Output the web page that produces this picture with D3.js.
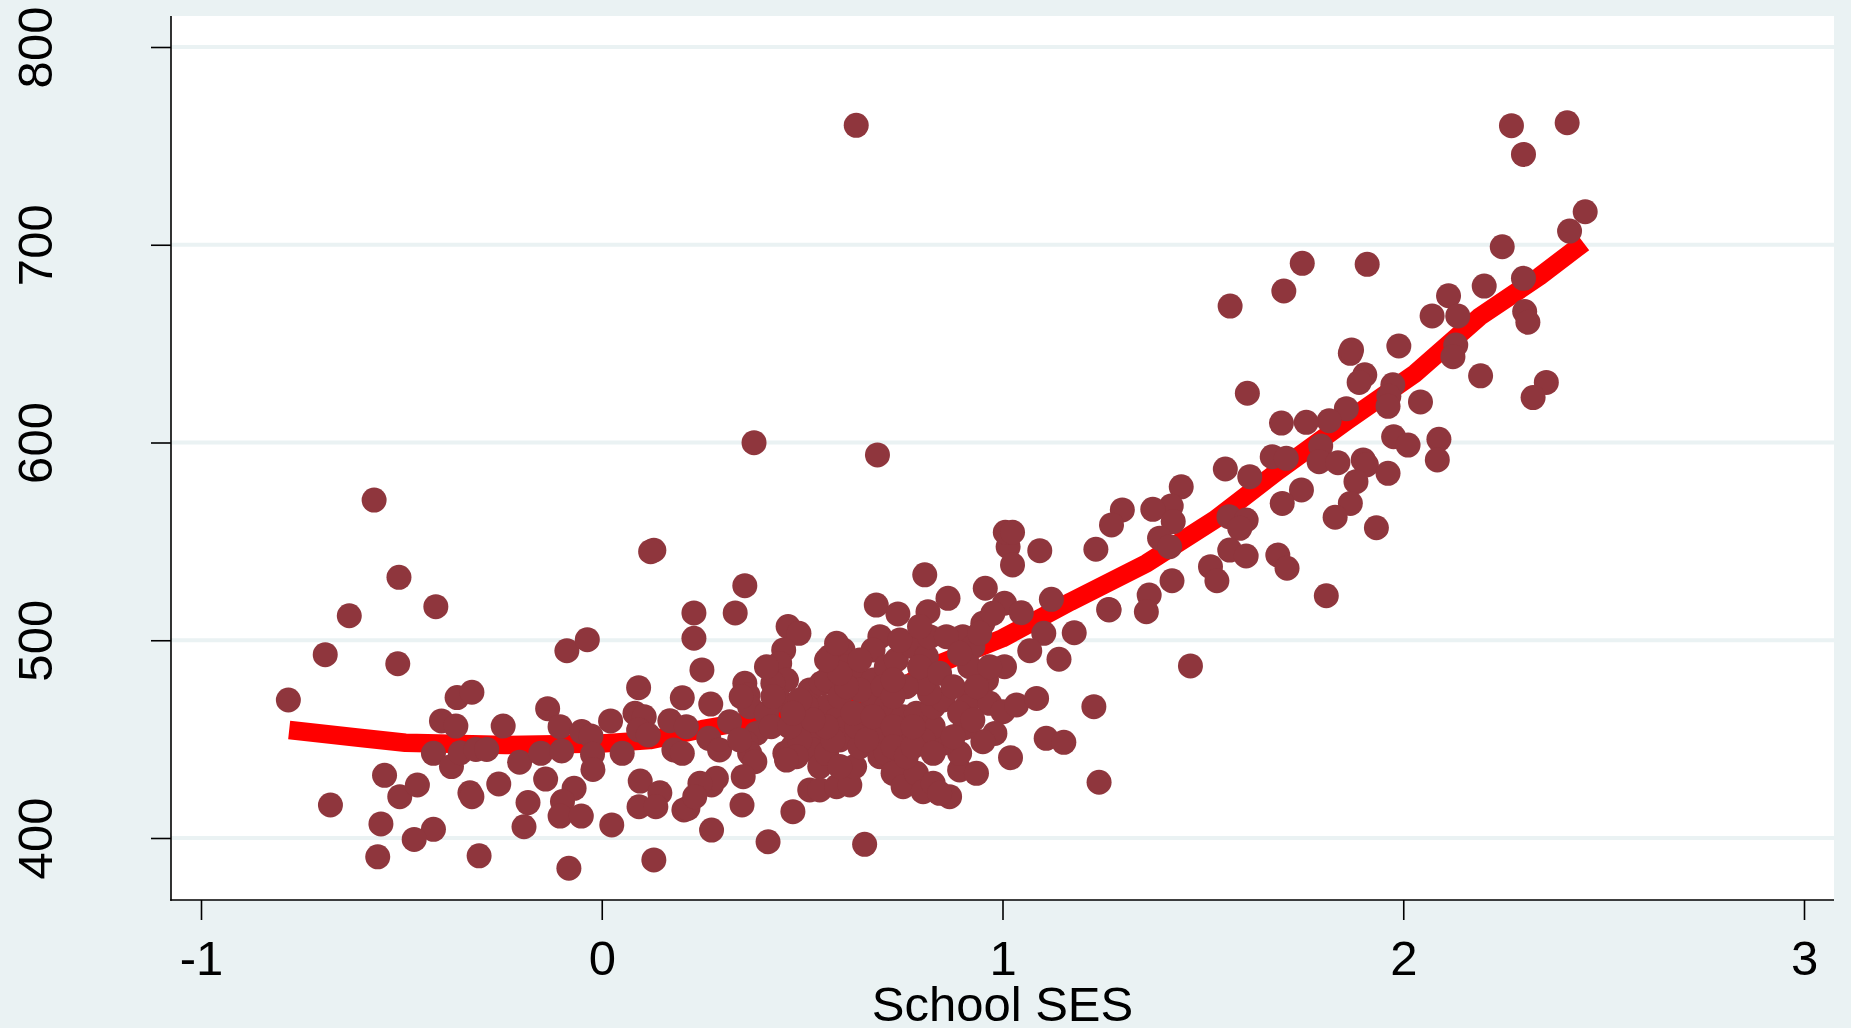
<!DOCTYPE html>
<html>
<head>
<meta charset="utf-8">
<title>School SES scatter</title>
<script src="https://cdn.jsdelivr.net/npm/d3@7"></script>
<style>
  html, body { margin: 0; padding: 0; background: #eaf2f3; overflow: hidden; }
  svg { display: block; }
</style>
</head>
<body>
<svg id="chart"></svg>
<script>
// School-level observations: [school SES, mean score]
const schools = [
  [-0.568,570.9],[-0.506,531.8],[-0.630,512.4],[-0.414,517.0],[-0.690,492.7],[-0.509,488.1],
  [-0.782,469.8],[0.130,545.5],[0.122,544.8],[-0.087,494.7],[-0.036,500.3],[0.092,476.0],
  [0.201,470.9],[-0.361,471.0],[-0.324,473.7],[-0.400,459.2],[-0.364,456.6],[-0.246,456.6],
  [-0.135,465.4],[-0.104,456.3],[-0.050,453.8],[-0.027,451.6],[0.022,459.2],[0.083,463.1],
  [0.106,461.3],[0.092,454.6],[0.116,452.1],[0.170,459.3],[0.180,444.5],[0.201,442.8],
  [-0.420,442.8],[-0.375,436.1],[-0.353,443.1],[-0.314,444.8],[-0.287,444.8],[-0.205,438.3],
  [-0.152,442.8],[-0.100,444.0],[-0.023,442.3],[-0.022,434.7],[0.051,442.8],[-0.542,431.7],
  [-0.504,420.9],[-0.460,426.8],[-0.329,422.9],[-0.324,420.9],[-0.257,427.3],[-0.140,429.8],
  [-0.184,417.9],[-0.069,425.1],[-0.098,418.4],[-0.104,411.1],[-0.051,411.1],[-0.194,405.7],
  [0.025,406.6],[0.096,428.8],[0.145,422.9],[0.093,415.8],[0.135,415.8],[0.205,414.2],
  [-0.677,416.7],[-0.551,407.1],[-0.420,404.4],[-0.468,399.3],[-0.559,390.5],[-0.306,391.0],
  [-0.082,384.7],[0.130,388.9],
  [0.357,527.6],[0.230,513.8],[0.333,513.8],[0.230,501.0],[0.250,485.0],[0.272,467.7],
  [0.211,456.3],[0.267,450.4],[0.294,444.5],[0.319,458.8],[0.357,478.2],[0.365,472.3],
  [0.465,506.9],[0.492,503.5],[0.454,495.1],[0.444,488.3],[0.461,479.9],[0.427,478.2],
  [0.444,469.8],[0.369,466.4],[0.411,463.1],[0.386,452.9],[0.361,447.9],[0.369,442.8],
  [0.382,438.6],[0.353,431.0],[0.350,416.7],[0.274,426.8],[0.286,430.2],[0.245,427.7],
  [0.215,415.0],[0.232,420.9],[0.274,404.0],[0.415,398.1],[0.477,413.3],[0.656,396.8],
  [0.457,442.8],[0.477,446.2],[0.511,456.3],[0.519,474.8],[0.548,478.2],[0.569,491.7],
  [0.602,495.1],[0.611,486.6],[0.627,483.3],[0.561,466.4],[0.586,459.7],[0.611,456.3],
  [0.594,449.6],[0.544,451.2],[0.527,444.5],[0.544,436.1],[0.519,424.3],[0.544,424.3],
  [0.586,425.9],[0.619,426.8],[0.631,436.1],[0.644,446.2],[0.636,456.3],[0.661,463.1],
  [0.669,473.2],[0.677,479.9],[0.644,474.8],[0.694,501.8],[0.677,495.1],[0.685,517.8],
  [0.739,513.3],[0.710,486.6],[0.702,476.5],[0.710,466.4],[0.694,456.3],[0.685,449.6],
  [0.694,441.1],[0.710,442.8],[0.727,432.7],[0.752,425.9],[0.785,432.7],[0.802,423.4],
  [0.827,427.7],[0.868,420.9],[0.843,422.6],[0.893,434.4],[0.935,432.7],[0.893,442.8],
  [0.852,447.9],[0.827,456.3],[0.802,449.6],[0.760,452.9],[0.752,461.3],[0.785,463.1],
  [0.827,466.4],[0.852,469.8],[0.818,473.2],[0.802,478.2],[0.760,476.5],[0.735,490.0],
  [0.777,496.7],[0.810,491.7],[0.818,501.8],[0.814,514.4],[0.806,533.1],[0.864,521.2],
  [0.793,486.6],[0.843,483.3],[0.901,501.8],[0.926,496.7],[0.951,508.6],[0.957,526.3],
  [1.005,518.7],[0.976,513.6],[1.047,513.9],[1.014,547.3],[1.025,538.1],[1.093,545.3],
  [1.233,546.0],[1.122,520.7],[1.265,515.6],[1.103,503.5],[1.179,503.8],[1.068,494.7],
  [1.141,490.4],[1.005,486.6],[0.960,479.9],[0.926,473.2],[0.910,466.4],[0.968,468.1],
  [1.001,463.9],[1.035,467.3],[1.085,470.6],[0.981,452.9],[0.951,448.7],[0.906,455.8],
  [1.020,440.6],[1.109,450.4],[1.153,448.4],[1.228,466.4],[1.241,428.2],[0.348,471.5],
  [0.344,449.6],[0.423,456.3],[0.486,459.7],[0.494,449.6],[0.486,441.1],[0.461,439.4],
  [0.511,466.4],[0.561,442.8],[0.594,436.1],[0.411,486.6],[0.427,471.5],[0.469,456.3],
  [0.561,479.9],[0.594,471.5],[0.627,463.1],[0.661,449.6],[0.677,461.3],[0.727,456.3],
  [0.727,446.2],[0.760,441.1],[0.777,446.2],[0.827,442.8],[0.877,451.2],[0.577,449.6],
  [0.561,456.3],[0.527,459.7],[0.494,469.8],[0.477,463.1],[0.611,476.5],[0.594,483.3],
  [0.561,490.0],[0.586,498.5],[0.644,490.0],[0.727,471.5],[0.727,479.9],[0.744,500.1],
  [0.793,506.9],[0.860,501.8],[0.877,476.5],[0.893,463.1],[0.926,459.7],[0.777,456.3],
  [0.918,486.6],[0.935,476.5],[0.968,486.6],[0.943,503.5],[0.893,493.4],[1.007,554.6],
  [1.025,554.6],[1.469,487.0],[0.380,599.9],[0.635,760.4],[0.688,593.7],
  [1.748,690.6],[1.910,690.1],[1.702,676.6],[1.568,669.0],[2.202,679.1],[2.113,674.2],
  [2.072,664.0],[2.136,664.0],[1.989,648.8],[1.868,645.1],[1.871,646.8],[2.131,649.3],
  [2.124,643.4],[2.193,633.7],[1.904,634.2],[1.890,630.4],[1.974,629.2],[1.964,623.4],
  [1.962,618.3],[2.043,620.5],[1.611,624.9],[1.858,617.1],[1.815,611.0],[1.758,610.2],
  [1.696,609.8],[1.794,598.2],[1.673,592.8],[1.708,592.0],[1.790,590.3],[1.837,589.8],
  [1.900,591.2],[1.908,588.7],[1.976,602.9],[2.012,598.7],[2.089,601.6],[2.085,591.2],
  [1.962,584.4],[1.882,580.2],[1.868,569.2],[1.830,562.2],[1.933,556.9],[1.808,522.5],
  [1.746,576.0],[1.698,569.2],[1.617,582.7],[1.556,586.6],[1.446,577.6],[1.421,567.9],
  [1.375,566.2],[1.426,560.0],[1.299,565.9],[1.272,558.3],[1.392,551.6],[1.417,547.3],
  [1.565,562.5],[1.608,560.8],[1.592,556.6],[1.567,545.6],[1.608,542.6],[1.687,543.1],
  [1.710,536.4],[1.519,537.2],[1.535,530.1],[1.423,530.1],[1.366,522.9],[1.359,514.4],
  [1.266,515.3],
  [2.270,760.2],[2.409,761.7],[2.300,745.7],[2.454,716.7],[2.415,706.9],[2.247,699.0],
  [2.300,683.0],[2.303,666.2],[2.311,660.8],[2.357,630.4],[2.324,622.7]
];

// Smoothed trend of score on school SES
const trendSES   = [-0.78, -0.60, -0.49, -0.24, 0.00, 0.12, 0.25, 0.45, 0.66, 0.75, 0.84, 1.00, 1.17, 1.36, 1.53, 1.69, 1.86, 2.03, 2.19, 2.34, 2.45];
const trendScore = [454.6, 450.6, 448.2, 447.0, 447.8, 449.5, 455.0, 462.0, 470.5, 476.0, 488.0, 501.0, 519.5, 539.0, 561.0, 586.0, 611.0, 635.0, 663.5, 684.0, 701.0];

const xTicks = [-1, 0, 1, 2, 3];
const yTicks = [400, 500, 600, 700, 800];
const xTitle = "School SES";

// ---- layout ----
const W = 1851, H = 1028;
const plot = { left: 171, right: 1834, top: 16, bottom: 900 };
const bg = "#eaf2f3";
const font = "'Liberation Sans', Arial, Helvetica, sans-serif";

const svg = d3.select("#chart").attr("width", W).attr("height", H);

svg.append("rect").attr("width", W).attr("height", H).attr("fill", bg);
svg.append("rect")
  .attr("x", plot.left).attr("y", plot.top)
  .attr("width", plot.right - plot.left).attr("height", plot.bottom - plot.top)
  .attr("fill", "#ffffff");

const x = d3.scaleLinear().domain([-1, 3]).range([201, 1804]);
const y = d3.scaleLinear().domain([400, 800]).range([838, 47]);

// horizontal grid
svg.append("g").selectAll("line").data(yTicks).join("line")
  .attr("x1", plot.left).attr("x2", plot.right)
  .attr("y1", d => y(d)).attr("y2", d => y(d))
  .attr("stroke", bg).attr("stroke-width", 4);

// trend line (under the markers)
const trend = trendSES.map((s, i) => [s, trendScore[i]]);
svg.append("path")
  .datum(trend)
  .attr("d", d3.line().x(d => x(d[0])).y(d => y(d[1])))
  .attr("fill", "none")
  .attr("stroke", "#ff0000")
  .attr("stroke-width", 18.5)
  .attr("stroke-linejoin", "round")
  .attr("stroke-linecap", "butt");

// markers
svg.append("g").selectAll("circle").data(schools).join("circle")
  .attr("cx", d => x(d[0]))
  .attr("cy", d => y(d[1]))
  .attr("r", 12.5)
  .attr("fill", "#8f363d");

// axes
const yAxis = svg.append("g")
  .attr("transform", `translate(${plot.left},0)`)
  .call(d3.axisLeft(y).tickValues(yTicks).tickSize(20).tickFormat(d => String(d)));
yAxis.select(".domain").remove();
yAxis.selectAll(".tick line").attr("stroke", "#000").attr("stroke-width", 1.6);
yAxis.selectAll(".tick text")
  .attr("x", null).attr("dy", null)
  .attr("transform", "translate(-119,0) rotate(-90)")
  .attr("text-anchor", "middle")
  .attr("fill", "#000")
  .style("font-family", font).style("font-size", "49px");

const xAxis = svg.append("g")
  .attr("transform", `translate(0,${plot.bottom})`)
  .call(d3.axisBottom(x).tickValues(xTicks).tickSize(20).tickFormat(d => String(d)));
xAxis.select(".domain").remove();
xAxis.selectAll(".tick line").attr("stroke", "#000").attr("stroke-width", 1.6);
xAxis.selectAll(".tick text")
  .attr("y", 75).attr("dy", null)
  .attr("fill", "#000")
  .style("font-family", font).style("font-size", "49px");

// axis lines
svg.append("line")
  .attr("x1", plot.left).attr("x2", plot.left)
  .attr("y1", plot.top).attr("y2", plot.bottom + 0.8)
  .attr("stroke", "#000").attr("stroke-width", 1.6);
svg.append("line")
  .attr("x1", plot.left - 0.8).attr("x2", plot.right)
  .attr("y1", plot.bottom).attr("y2", plot.bottom)
  .attr("stroke", "#000").attr("stroke-width", 1.6);

// axis title
svg.append("text")
  .attr("x", x(1)).attr("y", 1021)
  .attr("text-anchor", "middle")
  .attr("fill", "#000")
  .style("font-family", font).style("font-size", "49px")
  .text(xTitle);
</script>
</body>
</html>
